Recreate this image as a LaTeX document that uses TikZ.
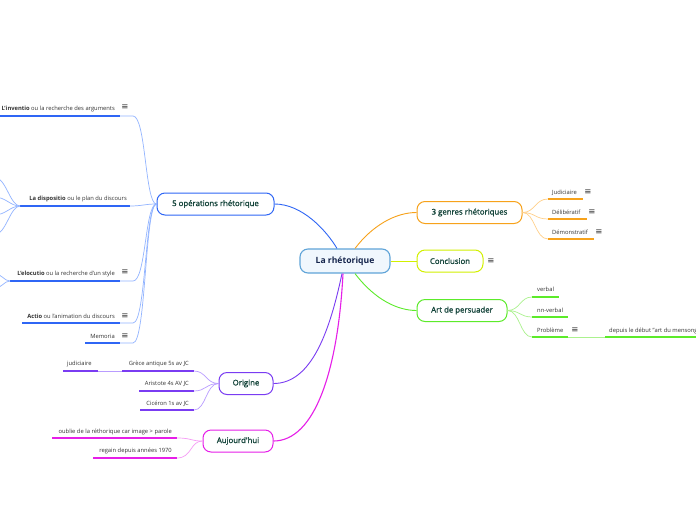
\documentclass[tikz,border=0pt]{standalone}
\usepackage{fontspec}
\setmainfont{Open Sans}
\newfontfamily\dejavu{DejaVu Sans}
\newfontfamily\topicfont{Open Sans}[BoldFont={Open Sans}, BoldFeatures={FakeBold=1.3}]
\definecolor{cBlue}{HTML}{2F66F5}
\definecolor{cBlueL}{HTML}{93B5FF}
\definecolor{cOr}{HTML}{F7A21B}
\definecolor{cOrL}{HTML}{FFD08A}
\definecolor{cYel}{HTML}{D2F000}
\definecolor{cGr}{HTML}{5CEB2A}
\definecolor{cGrL}{HTML}{ABF28E}
\definecolor{cPu}{HTML}{7A3CF2}
\definecolor{cPuL}{HTML}{B99CFF}
\definecolor{cMa}{HTML}{E61EE8}
\definecolor{cMaL}{HTML}{F69CF6}
\definecolor{cCen}{HTML}{5FA4D8}
\definecolor{cCenF}{HTML}{F0F7FD}
\definecolor{nodeTxt}{HTML}{14443A}
\definecolor{cenTxt}{HTML}{16264D}
\definecolor{lblTxt}{HTML}{333333}
\tikzset{
  topic/.style={draw, rounded corners=8pt, line width=1pt, fill=white, inner sep=0pt,
    minimum height=22pt, text=nodeTxt, font=\topicfont\bfseries\fontsize{7.8}{9}\selectfont},
  lbl/.style={inner sep=0pt, text=lblTxt, font=\fontsize{5.8}{7}\selectfont},
  menu/.style={inner sep=0pt, text=lblTxt, font=\dejavu\fontsize{8.5}{9}\selectfont},
  conn/.style={line width=0.9pt},
  sub/.style={line width=0.7pt},
  ul/.style={line width=2pt},
}
\begin{document}
\begin{tikzpicture}[x=1pt,y=-1pt]
\clip (0,0) rectangle (696,520);
\fill[white] (0,0) rectangle (696,520);

% central and main topics
\node[topic, draw=cCen, fill=cCenF, line width=1.1pt, minimum width=90pt, minimum height=24pt,
  text=cenTxt, font=\bfseries\fontsize{8.6}{10}\selectfont] (c) at (345,261) {La rhétorique};
\node[topic, draw=cBlue, minimum width=117pt] (o5) at (215.5,204) {5 opérations rhétorique};
\node[topic, draw=cOr, minimum width=105pt] (g3) at (469.5,212.5) {3 genres rhétoriques};
\node[topic, draw=cYel, minimum width=66pt] (con) at (450,261) {Conclusion};
\node[menu] (conM) at (491,261) {≡};
\node[topic, draw=cGr, minimum width=90pt] (art) at (462,310.5) {Art de persuader};
\node[topic, draw=cPu, minimum width=54pt] (ori) at (246,383.5) {Origine};
\node[topic, draw=cMa, minimum width=70pt] (auj) at (238,441) {Aujourd'hui};

% main connectors
\draw[conn, cBlue] ([xshift=-8pt]c.north) .. controls (326,230) and (302,204) .. (o5.east);
\draw[conn, cOr] ([xshift=10pt]c.north) .. controls (372,226) and (395,212.5) .. (g3.west);
\draw[conn, cYel] (c.east) -- (con.west);
\draw[conn, cGr] ([xshift=10pt]c.south) .. controls (375,300) and (398,310.5) .. (art.west);
\draw[conn, cPu] ([xshift=-3pt]c.south) .. controls (330,330) and (312,383.5) .. (ori.east);
\draw[conn, cMa, line width=1.1pt] ([xshift=-2pt]c.south) .. controls (338,370) and (315,441) .. (auj.east);

% ---- 5 operations children
\node[lbl, anchor=base east] (inv) at (115,110) {\textbf{L'inventio} ou la recherche des arguments};
\node[menu] (invM) at (125,107) {≡};
\coordinate (invL) at (-5,116); \coordinate (invR) at (120,116);
\draw[ul, cBlue] (invL) -- (invR);
\draw[sub, cBlueL] (o5.west) .. controls (145,204) and (146,116) .. (133,116) -- (invR);

\node[lbl, anchor=base east] (dis) at (127,200) {\textbf{La dispositio} ou le plan du discours};
\coordinate (disL) at (20,206); \coordinate (disR) at (130,206);
\draw[ul, cBlue] (disL) -- (disR);
\draw[sub, cBlueL] (o5.west) .. controls (145,204) and (142,206) .. (disR);
\foreach \yy/\nm in {177/a,197/b,215/c,235/d}{
  \coordinate (dis\nm) at (-6,\yy);
  \draw[sub, cBlueL] (disL) .. controls (10,206) and (6,\yy) .. (dis\nm);
}

\node[lbl, anchor=base east] (elo) at (115,275) {\textbf{L'elocutio} ou la recherche d'un style};
\node[menu] (eloM) at (125,272.5) {≡};
\coordinate (eloL) at (10,281); \coordinate (eloR) at (120,281);
\draw[ul, cBlue] (eloL) -- (eloR);
\draw[sub, cBlueL] (o5.west) .. controls (145,204) and (146,281) .. (133,281) -- (eloR);
\coordinate (eloa) at (-5,274); \coordinate (elob) at (-5,288);
\draw[sub, cBlueL] (eloL) .. controls (4,281) and (2,274) .. (eloa);
\draw[sub, cBlueL] (eloL) .. controls (4,281) and (2,288) .. (elob);

\node[lbl, anchor=base east] (act) at (115,318) {\textbf{Actio} ou l'animation du discours};
\node[menu] (actM) at (125,316) {≡};
\coordinate (actL) at (22,323); \coordinate (actR) at (120,323);
\draw[ul, cBlue] (actL) -- (actR);
\draw[sub, cBlueL] (o5.west) .. controls (145,204) and (146,323) .. (133,323) -- (actR);

\node[lbl, anchor=base east] (mem) at (115,338) {Memoria};
\node[menu] (memM) at (125,336) {≡};
\coordinate (memL) at (85,343); \coordinate (memR) at (120,343);
\draw[ul, cBlue] (memL) -- (memR);
\draw[sub, cBlueL] (o5.west) .. controls (145,204) and (146,343) .. (133,343) -- (memR);

% ---- 3 genres children
\node[lbl, anchor=base west] (jud) at (552,194.5) {Judiciaire};
\node[menu] (judM) at (588,192) {≡};
\coordinate (judL) at (548,199); \coordinate (judR) at (583,199);
\draw[ul, cOr] (judL) -- (judR);
\node[lbl, anchor=base west] (del) at (552,214.5) {Délibératif};
\node[menu] (delM) at (592,212) {≡};
\coordinate (delL) at (548,219); \coordinate (delR) at (587,219);
\draw[ul, cOr] (delL) -- (delR);
\node[lbl, anchor=base west] (dem) at (552,234.5) {Démonstratif};
\node[menu] (demM) at (599,232) {≡};
\coordinate (demL) at (548,239); \coordinate (demR) at (594,239);
\draw[ul, cOr] (demL) -- (demR);
\draw[sub, cOrL] (g3.east) .. controls (535,212.5) and (535,199) .. (judL);
\draw[sub, cOrL] (g3.east) .. controls (535,212.5) and (535,219) .. (delL);
\draw[sub, cOrL] (g3.east) .. controls (535,212.5) and (535,239) .. (demL);

% ---- Art de persuader children
\node[lbl, anchor=base west] (ver) at (537,291.5) {verbal};
\coordinate (verL) at (532,297); \coordinate (verR) at (559,297);
\draw[ul, cGr] (verL) -- (verR);
\node[lbl, anchor=base west] (nnv) at (537,312) {nn-verbal};
\coordinate (nnvL) at (532,317); \coordinate (nnvR) at (568,317);
\draw[ul, cGr] (nnvL) -- (nnvR);
\node[lbl, anchor=base west] (pro) at (537,332) {Problème};
\node[menu] (proM) at (575,330) {≡};
\coordinate (proL) at (532,337); \coordinate (proR) at (568,337);
\draw[ul, cGr] (proL) -- (proR);
\node[lbl, anchor=base west] (dep) at (609,332) {depuis le début "art du mensonge"};
\coordinate (depL) at (605,337); \coordinate (depR) at (700,337);
\draw[ul, cGr] (depL) -- (depR);
\draw[sub, cGrL] (proR) -- (depL);
\draw[sub, cGrL] (art.east) .. controls (520,310.5) and (520,297) .. (verL);
\draw[sub, cGrL] (art.east) .. controls (520,310.5) and (520,317) .. (nnvL);
\draw[sub, cGrL] (art.east) .. controls (520,310.5) and (520,337) .. (proL);

% ---- Origine children
\node[lbl, anchor=base east] (gre) at (189,365.5) {Grèce antique 5s av JC};
\coordinate (greL) at (122,371); \coordinate (greR) at (194,371);
\draw[ul, cPu] (greL) -- (greR);
\node[lbl, anchor=base west] (jdc) at (67,365.5) {judiciaire};
\coordinate (jdcL) at (63,371); \coordinate (jdcR) at (98,371);
\draw[ul, cPu] (jdcL) -- (jdcR);
\draw[sub, cPuL] (greL) -- (jdcR);
\node[lbl, anchor=base east] (ari) at (189,385.5) {Aristote 4s AV JC};
\coordinate (ariL) at (139,391); \coordinate (ariR) at (194,391);
\draw[ul, cPu] (ariL) -- (ariR);
\node[lbl, anchor=base east] (cic) at (189,405) {Cicéron 1s av JC};
\coordinate (cicL) at (140,410); \coordinate (cicR) at (194,410);
\draw[ul, cPu] (cicL) -- (cicR);
\draw[sub, cPuL] (ori.west) .. controls (206,383.5) and (206,371) .. (greR);
\draw[sub, cPuL] (ori.west) .. controls (206,383.5) and (206,391) .. (ariR);
\draw[sub, cPuL] (ori.west) .. controls (206,383.5) and (206,410) .. (cicR);

% ---- Aujourd'hui children
\node[lbl, anchor=base east] (oub) at (172,433) {oublie de la réthorique car image > parole};
\coordinate (oubL) at (52,438); \coordinate (oubR) at (177,438);
\draw[ul, cMa] (oubL) -- (oubR);
\node[lbl, anchor=base east] (reg) at (172,452.5) {regain depuis années 1970};
\coordinate (regL) at (93,458); \coordinate (regR) at (177,458);
\draw[ul, cMa] (regL) -- (regR);
\draw[sub, cMaL] (auj.west) .. controls (190,441) and (192,438) .. (oubR);
\draw[sub, cMaL] (auj.west) .. controls (190,441) and (192,458) .. (regR);
\end{tikzpicture}
\end{document}
